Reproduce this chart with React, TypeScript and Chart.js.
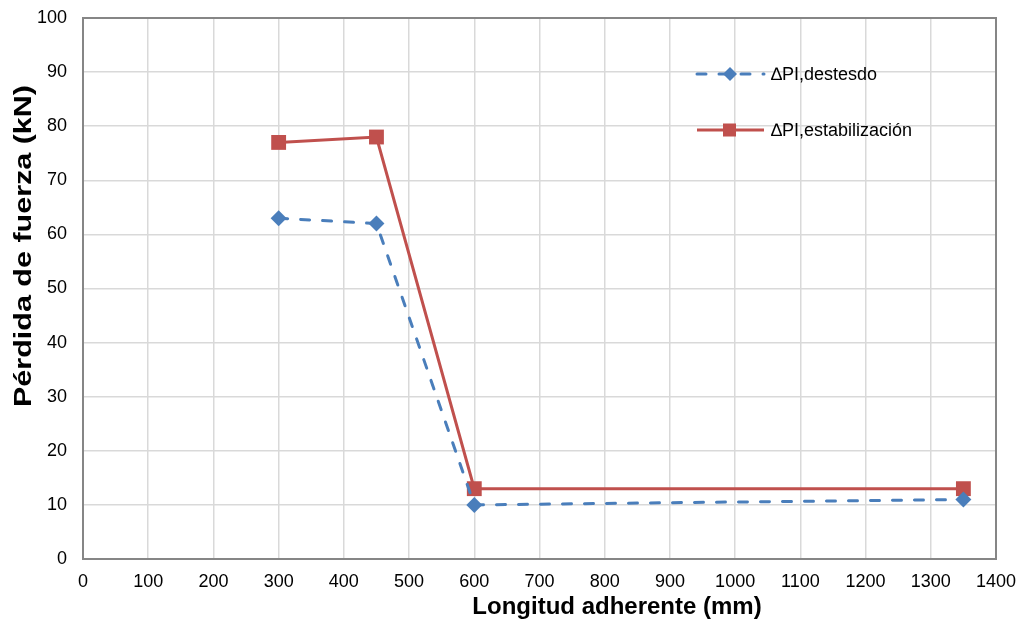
import React, { useEffect, useRef } from "react";
import { Chart, registerables } from "chart.js";

Chart.register(...registerables);

const xValues = [300, 450, 600, 1350];
const destesado = [63, 62, 10, 11];
const estabilizacion = [77, 78, 13, 13];
const seriesNames = ["\u2206PI,destesdo", "\u2206PI,estabilización"];
const xTitle = "Longitud adherente (mm)";
const yTitle = "Pérdida de fuerza (kN)";

const BLUE = "#4a7ebb";
const RED = "#c0504d";
const FONT = "'Liberation Sans', Arial, sans-serif";

const frameAndLegend = {
  id: "frameAndLegend",
  afterDraw(chart: any) {
    const { ctx, chartArea: a } = chart;
    ctx.save();
    ctx.strokeStyle = "#868686";
    ctx.lineWidth = 2;
    ctx.strokeRect(a.left, a.top, a.right - a.left, a.bottom - a.top);

    // legend
    const items = [
      { color: BLUE, dash: [9, 13], style: "rectRot", y: 74 },
      { color: RED, dash: [], style: "rect", y: 130 },
    ];
    items.forEach((it, i) => {
      ctx.save();
      ctx.strokeStyle = it.color;
      ctx.lineWidth = 3;
      ctx.lineCap = it.dash.length ? "round" : "butt";
      ctx.setLineDash(it.dash);
      ctx.beginPath();
      ctx.moveTo(697, it.y);
      ctx.lineTo(764, it.y);
      ctx.stroke();
      ctx.restore();
      ctx.fillStyle = it.color;
      if (it.style === "rect") {
        ctx.fillRect(723, it.y - 6.5, 13, 13);
      } else {
        ctx.beginPath();
        ctx.moveTo(730, it.y - 7);
        ctx.lineTo(737, it.y);
        ctx.lineTo(730, it.y + 7);
        ctx.lineTo(723, it.y);
        ctx.closePath();
        ctx.fill();
      }
      ctx.fillStyle = "#000";
      ctx.font = `18px ${FONT}`;
      ctx.textBaseline = "middle";
      ctx.textAlign = "left";
      ctx.fillText(seriesNames[i], 771, it.y + 1);
    });

    // axis titles
    ctx.fillStyle = "#000";
    ctx.font = `bold 24px ${FONT}`;
    ctx.textAlign = "center";
    ctx.textBaseline = "middle";
    ctx.fillText(xTitle, 617, 607);

    ctx.save();
    ctx.translate(24, 246);
    ctx.rotate(-Math.PI / 2);
    const w = ctx.measureText(yTitle).width;
    ctx.scale(322 / w, 1);
    ctx.fillText(yTitle, 0, 0);
    ctx.restore();

    ctx.restore();
  },
};

export default function App() {
  const ref = useRef<HTMLCanvasElement>(null);
  useEffect(() => {
    document.body.style.margin = "0";
    const chart = new Chart(ref.current!, {
      type: "line",
      data: {
        datasets: [
          {
            label: seriesNames[0],
            data: xValues.map((x, i) => ({ x, y: destesado[i] })),
            borderColor: BLUE,
            backgroundColor: BLUE,
            borderWidth: 3,
            borderDash: [9, 13],
            borderCapStyle: "round",
            pointStyle: "rectRot",
            pointRadius: 8,
            pointBorderWidth: 0,
            tension: 0,
          },
          {
            label: seriesNames[1],
            data: xValues.map((x, i) => ({ x, y: estabilizacion[i] })),
            borderColor: RED,
            backgroundColor: RED,
            borderWidth: 3,
            pointStyle: "rect",
            pointRadius: 10.5,
            pointBorderWidth: 0,
            tension: 0,
          },
        ],
      },
      options: {
        animation: false,
        responsive: false,
        layout: { padding: { left: 0, top: 18, right: 24, bottom: 0 } },
        plugins: { legend: { display: false }, tooltip: { enabled: false } },
        scales: {
          x: {
            type: "linear",
            min: 0,
            max: 1400,
            ticks: {
              stepSize: 100,
              color: "#000",
              font: { family: FONT, size: 18 },
              padding: 12,
              callback: (v: any) => String(v),
            },
            grid: { color: "#d9d9d9", lineWidth: 1.5, drawTicks: false },
            border: { display: false },
            afterFit: (s: any) => {
              s.height = 64;
              s.paddingLeft = 0;
              s.paddingRight = 0;
            },
          },
          y: {
            min: 0,
            max: 100,
            ticks: {
              stepSize: 10,
              color: "#000",
              font: { family: FONT, size: 18 },
              padding: 16,
              callback: (v: any) => String(v),
            },
            grid: { color: "#d9d9d9", lineWidth: 1.5, drawTicks: false },
            border: { display: false },
            afterFit: (s: any) => {
              s.width = 83;
              s.paddingTop = 0;
              s.paddingBottom = 0;
            },
          },
        },
      },
      plugins: [frameAndLegend],
    } as any);
    return () => chart.destroy();
  }, []);
  return (
    <div style={{ width: 1020, height: 623 }}>
      <canvas ref={ref} width={1020} height={623} style={{ display: "block" }} />
    </div>
  );
}
